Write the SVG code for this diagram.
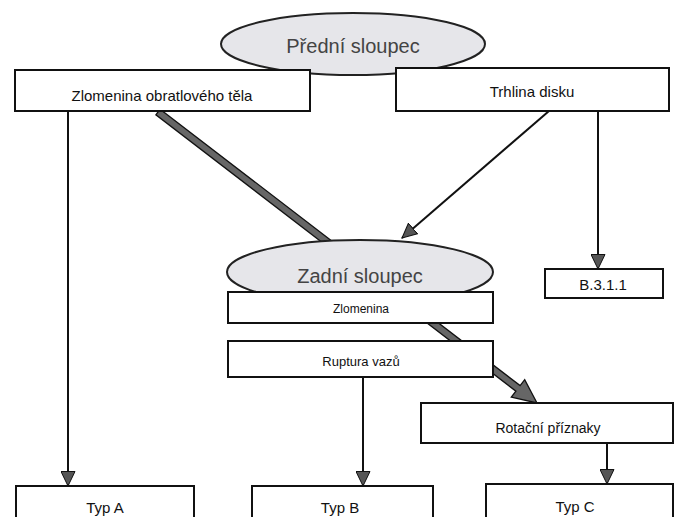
<svg xmlns="http://www.w3.org/2000/svg" width="677" height="517" viewBox="0 0 677 517">
<style>
.box{fill:#fff;stroke:#111;stroke-width:2}
.ell{fill:#e6e6ea;stroke:#222;stroke-width:2}
.t{font-family:"Liberation Sans",Arial,sans-serif;fill:#111;text-anchor:middle}
.et{font-family:"Liberation Sans",Arial,sans-serif;fill:#444;text-anchor:middle;font-size:20px}
.ln{stroke:#111;stroke-width:2;fill:none}
.thick{fill:#666;stroke:#111;stroke-width:1.3}
</style>
<defs>
<marker id="ah" viewBox="0 0 16 15" refX="15" refY="7.5" markerWidth="16" markerHeight="15" markerUnits="userSpaceOnUse" orient="auto">
<path d="M0.5,0.5 L15,7.5 L0.5,14.5 Z" fill="#555" stroke="#111" stroke-width="1"/>
</marker>
</defs>
<g id="connectors">
<polygon class="thick" points="160.1,109.2 520.1,385.6 524.7,379.7 537,403 511.3,397.1 515.9,391.2 155.9,114.8"/>
<line class="ln" x1="68" y1="111" x2="68" y2="486" marker-end="url(#ah)"/>
<line class="ln" x1="549" y1="111" x2="402" y2="238" marker-end="url(#ah)"/>
<line class="ln" x1="598" y1="111" x2="598" y2="269" marker-end="url(#ah)"/>
<line class="ln" x1="363" y1="377" x2="363" y2="486" marker-end="url(#ah)"/>
<line class="ln" x1="607" y1="443" x2="607" y2="484" marker-end="url(#ah)"/>
</g>
<g id="predni">
<ellipse class="ell" cx="353" cy="44" rx="132" ry="31"/>
<text class="et" x="353" y="53">Přední sloupec</text>
</g>
<g id="zlomenina-obratloveho">
<rect class="box" x="15" y="70" width="295" height="41"/>
<text class="t" x="162" y="101" font-size="15">Zlomenina obratlového těla</text>
</g>
<g id="trhlina">
<rect class="box" x="396" y="68" width="273" height="43"/>
<text class="t" x="532" y="97" font-size="15">Trhlina disku</text>
</g>
<g id="zadni">
<ellipse class="ell" cx="360" cy="272" rx="133" ry="32"/>
<text class="et" x="360" y="283">Zadní sloupec</text>
</g>
<g id="b3111">
<rect class="box" x="545" y="269" width="118" height="29"/>
<text class="t" x="603" y="290" font-size="15">B.3.1.1</text>
</g>
<g id="zlomenina">
<rect class="box" x="228" y="292" width="265" height="31"/>
<text class="t" x="361" y="313" font-size="12">Zlomenina</text>
</g>
<g id="ruptura">
<rect class="box" x="228" y="341" width="265" height="36"/>
<text class="t" x="361" y="366" font-size="13">Ruptura vazů</text>
</g>
<g id="rotacni">
<rect class="box" x="421" y="403" width="252" height="40"/>
<text class="t" x="548" y="433" font-size="14">Rotační příznaky</text>
</g>
<g id="typA">
<rect class="box" x="16" y="486" width="178" height="50"/>
<text class="t" x="105" y="513" font-size="15">Typ A</text>
</g>
<g id="typB">
<rect class="box" x="252" y="486" width="181" height="50"/>
<text class="t" x="340" y="513" font-size="15">Typ B</text>
</g>
<g id="typC">
<rect class="box" x="486" y="484" width="187" height="50"/>
<text class="t" x="575" y="512" font-size="15">Typ C</text>
</g>
</svg>
